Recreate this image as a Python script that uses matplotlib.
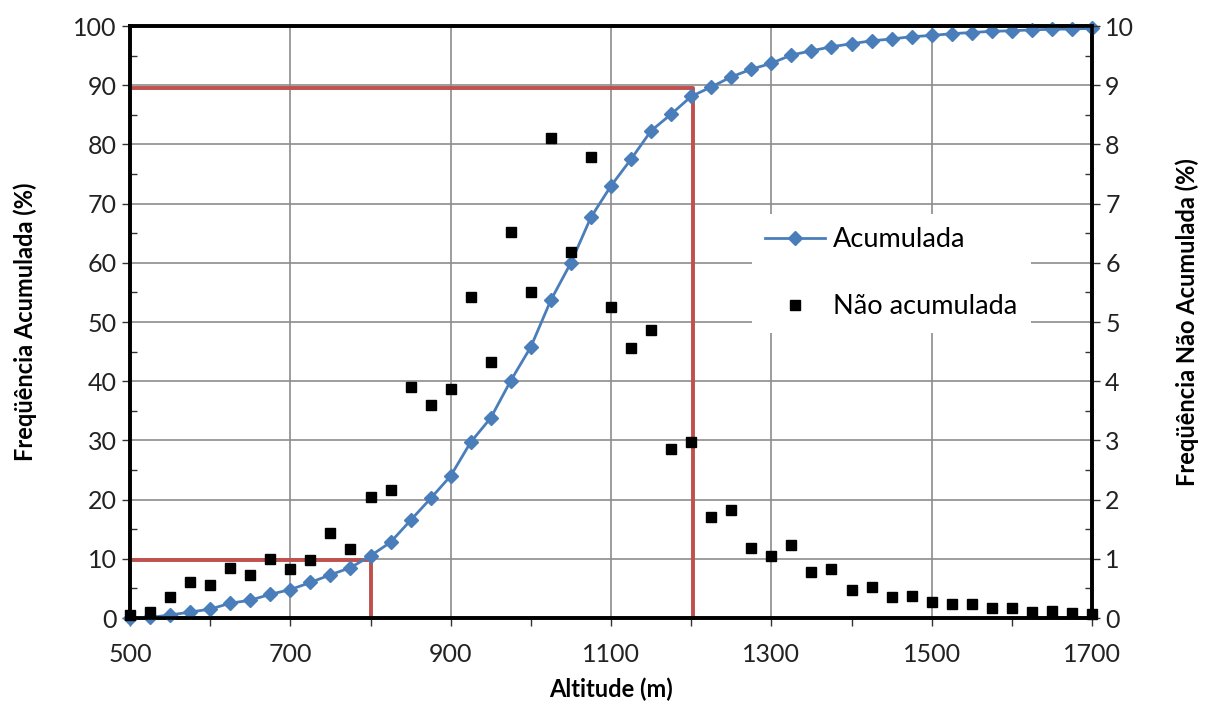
"""Altitude frequency curve: cumulative (left axis) and non-cumulative (right axis)."""

import matplotlib
matplotlib.use("Agg")
import matplotlib.pyplot as plt
from matplotlib.ticker import MultipleLocator

plt.rcParams["font.family"] = ["Lato", "DejaVu Sans"]

altitude = list(range(500, 1701, 25))

acumulada = [
    0.0, 0.1, 0.5, 1.0, 1.5, 2.5, 3.0, 4.0, 4.8, 6.0,
    7.3, 8.5, 10.5, 12.8, 16.5, 20.2, 24.0, 29.7, 33.8, 40.1,
    45.8, 53.7, 60.0, 67.7, 73.0, 77.5, 82.3, 85.1, 88.1, 89.7,
    91.4, 92.7, 93.7, 95.1, 95.8, 96.5, 97.0, 97.5, 97.8, 98.2,
    98.4, 98.7, 98.9, 99.1, 99.2, 99.35, 99.45, 99.5, 99.6,
]

nao_acumulada = [
    0.05, 0.10, 0.35, 0.60, 0.55, 0.85, 0.72, 1.00, 0.82, 0.98,
    1.43, 1.17, 2.05, 2.17, 3.90, 3.60, 3.87, 5.42, 4.33, 6.52,
    5.50, 8.10, 6.18, 7.78, 5.25, 4.56, 4.86, 2.85, 2.98, 1.70,
    1.83, 1.18, 1.05, 1.23, 0.78, 0.82, 0.47, 0.52, 0.35, 0.38,
    0.27, 0.23, 0.23, 0.17, 0.17, 0.10, 0.12, 0.08, 0.07,
]

# guide lines (altitude, cumulative %) for the 10% and 90% quantiles
guia_baixo = (800, 9.8)
guia_alto = (1202, 89.5)

BLUE = "#4A7EBB"
RED = "#C0504D"

fig = plt.figure(figsize=(12.08, 7.07), dpi=100)
ax = fig.add_axes([130 / 1208, 1 - 618 / 707, 962 / 1208, 592 / 707])
ax2 = ax.twinx()

ax.set_xlim(500, 1700)
ax.set_ylim(0, 100)
ax2.set_ylim(0, 10)

ax.xaxis.set_major_locator(MultipleLocator(200, offset=100))
ax.xaxis.set_minor_locator(MultipleLocator(100))
ax.yaxis.set_major_locator(MultipleLocator(10))
ax.yaxis.set_minor_locator(MultipleLocator(5))
ax2.yaxis.set_major_locator(MultipleLocator(1))
ax2.yaxis.set_minor_locator(MultipleLocator(0.5))

ax.grid(True, which="major", color="#8c8c8c", linewidth=1.2)
ax.set_axisbelow(True)

for a in (ax, ax2):
    for s in a.spines.values():
        s.set_color("black")
        s.set_linewidth(2.6)

ax.tick_params(axis="both", which="major", direction="out", length=6, width=1,
               labelsize=18, colors="#333333", labelcolor="#222222")
ax.tick_params(axis="x", which="minor", direction="out", length=6, width=1, colors="#333333")
ax.tick_params(axis="y", which="minor", direction="in", length=5, width=1, colors="#333333")
ax2.tick_params(axis="y", which="major", direction="out", length=6, width=1,
                labelsize=18, colors="#333333", labelcolor="#222222")
ax2.tick_params(axis="y", which="minor", direction="in", length=5, width=1, colors="#333333")
ax.tick_params(axis="x", pad=12)

# red guide lines
ax.plot([500, guia_baixo[0], guia_baixo[0]], [guia_baixo[1], guia_baixo[1], 0],
        color=RED, linewidth=2.8, zorder=2, clip_on=False)
ax.plot([500, guia_alto[0], guia_alto[0]], [guia_alto[1], guia_alto[1], 0],
        color=RED, linewidth=2.8, zorder=2, clip_on=False)

l1, = ax.plot(altitude, acumulada, color=BLUE, linewidth=2, marker="D",
              markersize=7, markeredgecolor=BLUE, zorder=3, clip_on=False,
              label="Acumulada")
l2, = ax2.plot(altitude, nao_acumulada, linestyle="none", marker="s",
               markersize=6.5, color="black", zorder=3, clip_on=False,
               label="Não acumulada")

ax.set_xlabel("Altitude (m)", fontsize=17, fontweight="bold", labelpad=8)
ax.set_ylabel("Freqüência Acumulada (%)", fontsize=17, fontweight="bold", labelpad=26)
ax2.set_ylabel("Freqüência Não Acumulada (%)", fontsize=17, fontweight="bold",
               rotation=90, labelpad=30)

leg = ax2.legend(handles=[l1, l2], loc="upper left",
                 bbox_to_anchor=((738 - 130) / 962, (618 - 200) / 592),
                 frameon=True, fontsize=19.5, handlelength=2.2, labelspacing=1.55,
                 borderpad=0.5, handletextpad=0.3)
leg.get_frame().set_facecolor("white")
leg.get_frame().set_edgecolor("none")
leg.get_frame().set_alpha(1)

fig.savefig("out.png", dpi=100)
